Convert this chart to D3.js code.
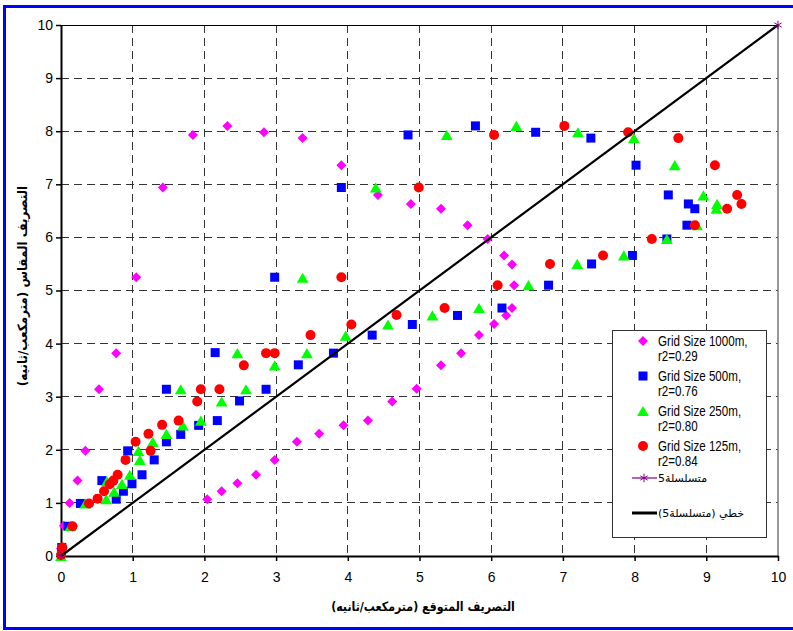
<!DOCTYPE html>
<html>
<head>
<meta charset="utf-8">
<script src="https://cdn.jsdelivr.net/npm/d3@7"></script>
<style>
  body { margin: 0; background: #fff; }
  svg { display: block; }
  text { font-family: "Liberation Sans", Arial, sans-serif; }
  .ar { font-family: "DejaVu Sans", sans-serif; }
</style>
</head>
<body>
<div id="chart"></div>
<script>
const width = 793;
const height = 631;

const grid1000 = [[0,0.14],[0.04,0.57],[0.12,1.0],[0.23,1.42],[0.34,1.98],[0.53,3.14],[0.77,3.82],[1.05,5.25],
  [1.42,6.94],[1.84,7.93],[2.32,8.10],[2.83,7.98],[3.37,7.87],[3.91,7.36],[4.42,6.80],[4.88,6.63],[5.30,6.54],
  [5.67,6.23],[5.95,5.97],[6.18,5.66],[6.29,5.49],[6.32,5.10],[6.29,4.67],[6.21,4.53],[6.04,4.37],[5.83,4.16],
  [5.58,3.82],[5.30,3.59],[4.96,3.15],[4.62,2.91],[4.28,2.55],[3.94,2.46],[3.60,2.30],[3.29,2.15],[2.98,1.81],
  [2.72,1.53],[2.46,1.37],[2.24,1.22],[2.04,1.07]];
const grid500 = [[0.01,0.16],[0.10,0.56],[0.27,0.99],[0.57,1.42],[0.77,1.07],[0.87,1.22],[0.99,1.36],[0.93,1.98],
  [1.13,1.53],[1.30,1.81],[1.47,2.15],[1.67,2.29],[1.92,2.46],[1.47,3.14],[2.18,2.55],[2.15,3.83],[2.49,2.92],
  [2.86,3.14],[2.98,5.25],[3.31,3.60],[3.80,3.82],[3.91,6.94],[4.34,4.16],[4.84,7.93],[4.90,4.36],[5.53,4.53],
  [5.78,8.10],[6.15,4.67],[6.62,7.98],[6.80,5.10],[7.39,7.87],[7.40,5.50],[7.97,5.66],[8.02,7.36],[8.45,5.97],
  [8.47,6.80],[8.73,6.23],[8.75,6.63],[8.84,6.54]];
const grid250 = [[0,0],[0.13,0.56],[0.34,0.99],[0.63,1.07],[0.64,1.41],[0.74,1.21],[0.85,1.36],[0.96,1.53],
  [1.08,1.98],[1.10,1.81],[1.28,2.15],[1.47,2.30],[1.70,2.46],[1.95,2.55],[1.67,3.14],[2.24,2.91],[2.46,3.82],
  [2.58,3.14],[2.98,3.59],[3.37,5.24],[3.43,3.82],[3.97,4.15],[4.39,6.94],[4.56,4.36],[5.18,4.53],[5.38,7.93],
  [5.83,4.67],[6.35,8.10],[6.52,5.10],[7.21,7.98],[7.20,5.50],[7.85,5.66],[7.99,7.87],[8.45,5.97],[8.56,7.36],
  [8.87,6.23],[8.96,6.79],[9.14,6.54],[9.15,6.63]];
const grid125 = [[0,0.02],[0.02,0.16],[0.16,0.56],[0.39,0.99],[0.51,1.08],[0.60,1.22],[0.68,1.35],[0.73,1.42],
  [0.79,1.53],[0.90,1.81],[1.04,2.15],[1.25,1.98],[1.22,2.30],[1.41,2.47],[1.64,2.55],[1.90,2.91],[1.95,3.14],
  [2.21,3.14],[2.55,3.59],[2.86,3.82],[2.98,3.82],[3.48,4.16],[3.91,5.25],[4.05,4.36],[4.68,4.54],[4.99,6.94],
  [5.35,4.67],[6.04,7.93],[6.09,5.10],[6.82,5.50],[7.02,8.10],[7.56,5.66],[7.91,7.98],[8.24,5.97],[8.61,7.87],
  [8.84,6.23],[9.12,7.36],[9.29,6.54],[9.43,6.80],[9.49,6.63]];
const series5 = [[0,0],[10,10]];
const trend5 = [[0,0],[10,10]];

const xTicks = [0,1,2,3,4,5,6,7,8,9,10];
const yTicks = [0,1,2,3,4,5,6,7,8,9,10];
const seriesNames = ["Grid Size 1000m,", "Grid Size 500m,", "Grid Size 250m,", "Grid Size 125m,"];
const seriesR2 = ["r2=0.29", "r2=0.76", "r2=0.80", "r2=0.84"];
const series5Name = "متسلسلة5";
const trendName = "خطي (متسلسلة5)";
const xTitle = "التصريف المتوقع (مترمكعب/ثانيه)";
const yTitle = "التصريف المقاس (مترمكعب/ثانيه)";

const svg = d3.select("#chart").append("svg")
    .attr("width", width)
    .attr("height", height);

// outer blue frame
svg.append("rect")
    .attr("x", 4.5).attr("y", 6.5)
    .attr("width", 810).attr("height", 622)
    .attr("fill", "none")
    .attr("stroke", "#0000ff")
    .attr("stroke-width", 3);

const x = d3.scaleLinear().domain([0, 10]).range([61, 778]);
const y = d3.scaleLinear().domain([0, 10]).range([556, 25]);

// dashed grid
const grid = svg.append("g").attr("stroke", "#333").attr("stroke-dasharray", "8,5").attr("shape-rendering", "crispEdges");
grid.selectAll(".vg").data(xTicks.slice(1, -1)).join("line")
    .attr("x1", d => x(d)).attr("x2", d => x(d))
    .attr("y1", y(10)).attr("y2", y(0));
grid.selectAll(".hg").data(yTicks.slice(1, -1)).join("line")
    .attr("x1", x(0)).attr("x2", x(10))
    .attr("y1", d => y(d)).attr("y2", d => y(d));

// top and right border of the plot
svg.append("line").attr("x1", x(0)).attr("x2", x(10)).attr("y1", y(10)).attr("y2", y(10))
    .attr("stroke", "#000").attr("shape-rendering", "crispEdges");
svg.append("line").attr("x1", x(10)).attr("x2", x(10)).attr("y1", y(10)).attr("y2", y(0))
    .attr("stroke", "#777").attr("stroke-width", 1.5);

// axes
const yAxis = svg.append("g")
    .attr("transform", `translate(${x(0)},0)`)
    .call(d3.axisLeft(y).tickValues(yTicks).tickSize(5).tickPadding(3).tickSizeOuter(0));
const xAxis = svg.append("g")
    .attr("transform", `translate(0,${y(0)})`)
    .call(d3.axisBottom(x).tickValues(xTicks).tickSize(5).tickPadding(11).tickSizeOuter(0));
[xAxis, yAxis].forEach(g => {
    g.select(".domain").attr("stroke", "#000").attr("stroke-width", 2);
    g.selectAll(".tick line").attr("stroke", "#000").attr("stroke-width", 1.5);
    g.selectAll(".tick text").attr("font-size", 14).attr("fill", "#000")
        .attr("font-family", "'Liberation Sans', Arial, sans-serif");
});

// markers
const diamond = d3.symbol(d3.symbolSquare, 50);
const square = d3.symbol(d3.symbolSquare, 81);
const triangle = d3.symbol(d3.symbolTriangle, 60);

const pts = svg.append("g");
pts.selectAll(".m1000").data(grid1000).join("path")
    .attr("d", diamond)
    .attr("transform", d => `translate(${x(d[0])},${y(d[1])}) rotate(45)`)
    .attr("fill", "#ff00ff");
pts.selectAll(".m500").data(grid500).join("path")
    .attr("d", square)
    .attr("transform", d => `translate(${x(d[0])},${y(d[1])})`)
    .attr("fill", "#0000ff");
pts.selectAll(".m250").data(grid250).join("path")
    .attr("d", triangle)
    .attr("transform", d => `translate(${x(d[0])},${y(d[1]) + 1.7})`)
    .attr("fill", "#00ff00");
pts.selectAll(".m125").data(grid125).join("circle")
    .attr("cx", d => x(d[0])).attr("cy", d => y(d[1]))
    .attr("r", 5)
    .attr("fill", "#ff0000");

// series 5 and its linear trendline
svg.append("path")
    .datum(trend5)
    .attr("d", d3.line().x(d => x(d[0])).y(d => y(d[1])))
    .attr("stroke", "#000").attr("stroke-width", 2.2).attr("fill", "none");
const star = d3.symbol(d3.symbolAsterisk, 50);
svg.selectAll(".s5").data(series5).join("path")
    .attr("d", star)
    .attr("transform", d => `translate(${x(d[0])},${y(d[1])})`)
    .attr("fill", "none").attr("stroke", "#800080").attr("stroke-width", 1);

// legend
const lg = svg.append("g");
lg.append("rect")
    .attr("x", 612.5).attr("y", 330.5).attr("width", 154).attr("height", 207)
    .attr("fill", "#fff").attr("stroke", "#333");
const markers = [diamond, square, triangle, null];
const colors = ["#ff00ff", "#0000ff", "#00ff00", "#ff0000"];
seriesNames.forEach((name, i) => {
    const cy = 341 + i * 35;
    if (i === 3) {
        lg.append("circle").attr("cx", 643).attr("cy", cy).attr("r", 5).attr("fill", colors[i]);
    } else {
        lg.append("path").attr("d", markers[i])
            .attr("transform", `translate(643,${cy + (i === 2 ? 1.7 : 0)})${i === 0 ? " rotate(45)" : ""}`)
            .attr("fill", colors[i]);
    }
    lg.append("text").attr("transform", `translate(658,${cy + 5}) scale(0.8,1)`)
        .attr("font-size", 14.5).text(name);
    lg.append("text").attr("transform", `translate(658,${cy + 20}) scale(0.8,1)`)
        .attr("font-size", 14.5).text(seriesR2[i]);
});
lg.append("line").attr("x1", 632).attr("x2", 657).attr("y1", 478).attr("y2", 478)
    .attr("stroke", "#800080").attr("stroke-width", 1.2);
lg.append("path").attr("d", star).attr("transform", "translate(644,478)")
    .attr("fill", "none").attr("stroke", "#800080");
lg.append("text").attr("class", "ar").attr("x", 658).attr("y", 482)
    .attr("font-size", 11).text(series5Name);
lg.append("line").attr("x1", 632).attr("x2", 657).attr("y1", 513).attr("y2", 513)
    .attr("stroke", "#000").attr("stroke-width", 3);
lg.append("text").attr("class", "ar").attr("x", 658).attr("y", 517)
    .attr("font-size", 11).text(trendName);

// axis titles
svg.append("text").attr("class", "ar")
    .attr("transform", "translate(423,611) scale(0.85,1)")
    .attr("text-anchor", "middle").attr("font-size", 13).attr("font-weight", "bold")
    .text(xTitle);
svg.append("text").attr("class", "ar")
    .attr("transform", "translate(27,286) rotate(-90) scale(0.92,1)")
    .attr("text-anchor", "middle").attr("font-size", 13).attr("font-weight", "bold")
    .text(yTitle);
</script>
</body>
</html>
